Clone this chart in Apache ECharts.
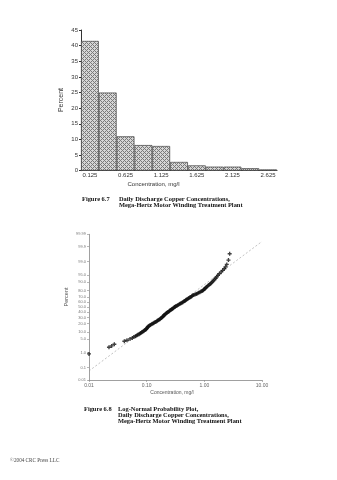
<!DOCTYPE html>
<html><head><meta charset="utf-8">
<script src="https://cdn.jsdelivr.net/npm/echarts@6/dist/echarts.min.js"></script>
<style>html,body{margin:0;padding:0;background:#fff}#c{width:337px;height:480px}</style>
</head><body><div id="c"></div>
<script>
// ---------- Figure 6.7 histogram data ----------
const histCategories = ['0.125','0.375','0.625','0.875','1.125','1.375','1.625','1.875','2.125','2.375','2.625'];
const histPercent = [41.5, 25.0, 11.0, 8.2, 7.9, 2.8, 1.7, 1.3, 1.3, 0.8, 0.4];
const histYMax = 45;
const histYInterval = 5;

// ---------- Figure 6.8 probability plot data ----------
const probXTickLabels = ['0.01','0.10','1.00','10.00'];
const probYTicks = [0.01, 0.1, 1, 5, 10, 20, 30, 40, 50, 60, 70, 80, 90, 95, 99, 99.9, 99.99];
const probYTickLabels = ['0.01','0.1','1.0','5.0','10.0','20.0','30.0','40.0','50.0','60.0','70.0','80.0','90.0','95.0','99.0','99.9','99.99'];
// concentration (mg/l) and cumulative percent
const probConc = [0.010,0.0222,0.0247,0.0275,0.0410,0.0456,0.0514,0.0564,
 0.060,0.064,0.067,0.070,0.074,0.077,0.079,0.082,0.085,0.088,0.091,0.094,0.097,0.099,0.101,0.103,0.106,0.108,0.112,
 0.116,0.121,0.126,0.131,0.136,0.142,0.148,0.153,
 0.158,0.163,0.169,0.174,0.180,0.186,
 0.190,0.194,0.199,0.203,0.209,0.215,0.221,0.228,
 0.235,0.242,0.249,0.257,0.265,0.272,0.280,
 0.289,0.298,0.306,0.315,0.325,0.340,
 0.352,0.366,0.380,0.394,0.409,
 0.424,0.440,0.455,0.470,0.486,0.503,
 0.520,0.540,0.562,0.583,0.604,0.625,
 0.655,0.690,0.725,0.760,
 0.795,0.835,0.875,0.915,
 0.945,0.975,1.005,1.030,1.060,
 1.095,1.135,1.180,1.230,
 1.280,1.330,1.385,1.440,
 1.500,1.570,1.640,1.720,
 1.820,1.960,2.080,2.220,2.330,2.450,2.620,2.750];
const probPct = [0.85,2.03,2.39,2.91,4.09,4.56,5.25,5.82,
 6.3,6.9,7.4,7.9,8.4,8.9,9.4,9.9,10.4,11.0,11.6,12.2,12.8,13.5,14.2,15.0,15.8,16.6,17.4,
 18.2,19.0,19.8,20.6,21.5,22.4,23.3,24.2,
 25.1,26.0,27.0,28.0,29.1,30.2,
 31.3,32.4,33.5,34.6,35.8,37.0,38.1,39.2,
 40.3,41.4,42.5,43.6,44.7,45.8,46.9,
 48.0,49.1,50.2,51.3,52.4,53.5,
 54.6,55.7,56.8,57.9,59.0,
 60.1,61.2,62.3,63.4,64.5,65.6,
 66.7,67.8,68.9,70.0,71.1,72.2,
 73.2,74.1,75.0,75.9,
 76.8,77.7,78.6,79.5,
 80.4,81.3,82.2,83.1,84.0,
 84.9,85.8,86.7,87.6,
 88.5,89.4,90.3,91.2,
 92.1,93.0,93.9,94.8,
 95.6,96.4,97.0,97.5,98.0,98.55,99.19,99.68];
const fitConc = [0.01, 10];
const fitPct = [0.056, 99.96];

// inverse standard normal CDF (probability-paper scale)
function probit(p){
 const a=[-3.969683028665376e+01,2.209460984245205e+02,-2.759285104469687e+02,1.383577518672690e+02,-3.066479806614716e+01,2.506628277459239e+00];
 const b=[-5.447609879822406e+01,1.615858368580409e+02,-1.556989798598866e+02,6.680131188771972e+01,-1.328068155288572e+01];
 const c=[-7.784894002430293e-03,-3.223964580411365e-01,-2.400758277161838e+00,-2.549732539343734e+00,4.374664141464968e+00,2.938163982698783e+00];
 const d=[7.784695709041462e-03,3.224671290700398e-01,2.445134137142996e+00,3.754408661907416e+00];
 const pl=0.02425, ph=1-pl; let q,r;
 if(p<pl){q=Math.sqrt(-2*Math.log(p));return (((((c[0]*q+c[1])*q+c[2])*q+c[3])*q+c[4])*q+c[5])/((((d[0]*q+d[1])*q+d[2])*q+d[3])*q+1);}
 if(p<=ph){q=p-0.5;r=q*q;return (((((a[0]*r+a[1])*r+a[2])*r+a[3])*r+a[4])*r+a[5])*q/(((((b[0]*r+b[1])*r+b[2])*r+b[3])*r+b[4])*r+1);}
 q=Math.sqrt(-2*Math.log(1-p));return -(((((c[0]*q+c[1])*q+c[2])*q+c[3])*q+c[4])*q+c[5])/((((d[0]*q+d[1])*q+d[2])*q+d[3])*q+1);
}
const yTickZ = probYTicks.map(v => probit(v/100));
const zMin = yTickZ[0], zMax = yTickZ[yTickZ.length-1];

// cross-hatch pattern for bars
const pat = document.createElement('canvas');
pat.width = 4; pat.height = 4;
(function(){
 const g = pat.getContext('2d');
 g.fillStyle = '#d6d6d6'; g.fillRect(0,0,4,4);
 g.fillStyle = '#7a7a7a';
 [[0,0],[1,1],[2,2],[3,3],[1,3],[3,1]].forEach(p=>g.fillRect(p[0],p[1],1,1));
})();

const plusPath = 'path://M1,0H2V1H3V2H2V3H1V2H0V1H1Z';
const sans = 'Liberation Sans, Arial, sans-serif';
const serif = 'Liberation Serif, Times New Roman, serif';

const chart = echarts.init(document.getElementById('c'), null, {renderer:'canvas'});
chart.setOption({
 backgroundColor:'#fff',
 animation:false,
 grid:[
  {left:81, top:30, width:196, height:140.7, containLabel:false},
  {left:89, top:234.3, width:173, height:145.7, containLabel:false}
 ],
 xAxis:[
  {gridIndex:0, type:'category', data:histCategories, boundaryGap:true,
   axisLine:{onZero:false, lineStyle:{color:'#333', width:1}},
   axisTick:{show:false},
   axisLabel:{interval:1, fontSize:6, color:'#333', margin:2, fontFamily:sans}},
  {gridIndex:1, type:'log', logBase:10, min:0.01, max:10,
   axisLine:{onZero:false, lineStyle:{color:'#888', width:0.8}},
   axisTick:{show:true, length:2, lineStyle:{color:'#888', width:0.6}},
   splitLine:{show:false},
   axisLabel:{fontSize:5, color:'#666', margin:3, fontFamily:sans,
     formatter:v => { const i = Math.round(Math.log10(v)) + 2; return probXTickLabels[i] !== undefined ? probXTickLabels[i] : ''; }}}
 ],
 yAxis:[
  {gridIndex:0, type:'value', min:0, max:histYMax, interval:histYInterval,
   axisLine:{show:true, onZero:false, lineStyle:{color:'#333', width:1}},
   axisTick:{show:true, length:2, lineStyle:{color:'#333'}},
   splitLine:{show:false},
   axisLabel:{fontSize:6, color:'#333', margin:3, fontFamily:sans}},
  {gridIndex:1, type:'value', min:zMin, max:zMax,
   axisLine:{show:true, onZero:false, lineStyle:{color:'#888', width:0.8}},
   axisTick:{show:true, length:2, customValues:yTickZ, lineStyle:{color:'#888', width:0.6}},
   splitLine:{show:false},
   axisLabel:{fontSize:4, color:'#777', margin:3, fontFamily:sans, customValues:yTickZ,
     formatter:v => { let bi=0, bd=1e9; yTickZ.forEach((z,i)=>{const dd=Math.abs(z-v); if(dd<bd){bd=dd;bi=i;}}); return probYTickLabels[bi]; }}}
 ],
 series:[
  {type:'bar', xAxisIndex:0, yAxisIndex:0, data:histPercent, barCategoryGap:0, barGap:0,
   itemStyle:{color:{image:pat, repeat:'repeat'}, borderColor:'#444', borderWidth:0.7}},
  {type:'line', xAxisIndex:1, yAxisIndex:1, data:fitConc.map((c,i)=>[c, probit(fitPct[i]/100)]),
   symbol:'none', lineStyle:{type:[2,2], color:'#999', width:0.6}, z:1},
  {type:'scatter', xAxisIndex:1, yAxisIndex:1, clip:false,
   data:probConc.map((c,i)=>[c, probit(probPct[i]/100)]),
   symbol:plusPath, symbolSize:4, itemStyle:{color:'#111'}, z:3}
 ],
 graphic:[
  {type:'text', x:61, y:100, rotation:Math.PI/2, style:{text:'Percent', fontSize:7, fill:'#333', fontFamily:sans, align:'center', verticalAlign:'middle'}},
  {type:'text', style:{text:'Concentration, mg/l', fontSize:6, fill:'#333', fontFamily:sans, align:'center', verticalAlign:'middle', x:153.5, y:184}},
  {type:'text', style:{text:'Figure 6.7', fontSize:6.4, fontWeight:'bold', fill:'#111', fontFamily:serif, x:82, y:199, verticalAlign:'middle'}},
  {type:'text', style:{text:'Daily Discharge Copper Concentrations,', fontSize:6.4, fontWeight:'bold', fill:'#111', fontFamily:serif, x:119, y:199, verticalAlign:'middle'}},
  {type:'text', style:{text:'Mega-Hertz Motor Winding Treatment Plant', fontSize:6.4, fontWeight:'bold', fill:'#111', fontFamily:serif, x:119, y:205.5, verticalAlign:'middle'}},
  {type:'text', x:66.5, y:297, rotation:Math.PI/2, style:{text:'Percent', fontSize:5.5, fill:'#555', fontFamily:sans, align:'center', verticalAlign:'middle'}},
  {type:'text', style:{text:'Concentration, mg/l', fontSize:5, fill:'#555', fontFamily:sans, align:'center', verticalAlign:'middle', x:172, y:393}},
  {type:'text', style:{text:'Figure 6.8', fontSize:6.4, fontWeight:'bold', fill:'#111', fontFamily:serif, x:84, y:409.5, verticalAlign:'middle'}},
  {type:'text', style:{text:'Log-Normal Probability Plot,', fontSize:6.4, fontWeight:'bold', fill:'#111', fontFamily:serif, x:118, y:409.5, verticalAlign:'middle'}},
  {type:'text', style:{text:'Daily Discharge Copper Concentrations,', fontSize:6.4, fontWeight:'bold', fill:'#111', fontFamily:serif, x:118, y:415.5, verticalAlign:'middle'}},
  {type:'text', style:{text:'Mega-Hertz Motor Winding Treatment Plant', fontSize:6.4, fontWeight:'bold', fill:'#111', fontFamily:serif, x:118, y:421.5, verticalAlign:'middle'}},
  {type:'text', style:{text:'©2004 CRC Press LLC', fontSize:5.2, fill:'#444', fontFamily:serif, x:10, y:461, verticalAlign:'middle'}}
 ]
});
</script>
</body></html>
